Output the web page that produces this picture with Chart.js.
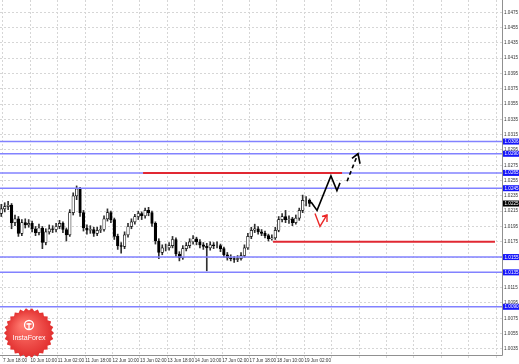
<!DOCTYPE html>
<html>
<head>
<meta charset="utf-8">
<script src="https://cdn.jsdelivr.net/npm/chart.js@4.4.0/dist/chart.umd.min.js"></script>
<style>
html, body { margin: 0; padding: 0; background: #fff; }
#wrap { width: 519px; height: 364px; position: relative; }
</style>
</head>
<body>
<div id="wrap"><canvas id="c"></canvas></div>
<script>
// Candles (each spans two bars on the time axis)
const opens  = [1.0212,1.0218,1.0221,1.0223,1.0200,1.0205,1.0186,1.0200,1.0197,1.0199,1.0192,1.0187,1.0193,1.0174,1.0188,1.0192,1.0191,1.0195,1.0199,1.0191,
                1.0184,1.0213,1.0235,1.0244,1.0213,1.0193,1.0190,1.0191,1.0186,1.0190,1.0191,1.0205,1.0213,1.0204,1.0182,1.0170,1.0169,1.0184,1.0195,1.0201,
                1.0208,1.0212,1.0209,1.0216,1.0213,1.0199,1.0176,1.0161,1.0167,1.0167,1.0170,1.0178,1.0159,1.0154,1.0166,1.0170,1.0175,1.0179,1.0175,1.0171,
                1.0169,1.0167,1.0171,1.0170,1.0170,1.0166,1.0158,1.0154,1.0153,1.0152,1.0153,1.0157,1.0167,1.0182,1.0190,1.0192,1.0188,1.0186,1.0183,1.0179,
                1.0180,1.0190,1.0204,1.0208,1.0204,1.0205,1.0200,1.0206,1.0216,1.0229,1.0229];
const highs  = [1.0224,1.0226,1.0228,1.0225,1.0210,1.0208,1.0204,1.0205,1.0204,1.0202,1.0195,1.0198,1.0195,1.0192,1.0197,1.0196,1.0199,1.0203,1.0201,1.0193,
                1.0217,1.0239,1.0248,1.0246,1.0216,1.0197,1.0196,1.0194,1.0194,1.0196,1.0209,1.0218,1.0215,1.0206,1.0185,1.0174,1.0188,1.0199,1.0205,1.0211,
                1.0215,1.0214,1.0219,1.0220,1.0215,1.0201,1.0179,1.0171,1.0172,1.0174,1.0182,1.0180,1.0162,1.0170,1.0174,1.0179,1.0183,1.0181,1.0178,1.0174,
                1.0173,1.0175,1.0174,1.0175,1.0172,1.0168,1.0161,1.0158,1.0156,1.0157,1.0161,1.0171,1.0186,1.0194,1.0198,1.0195,1.0191,1.0189,1.0185,1.0184,
                1.0194,1.0208,1.0212,1.0216,1.0209,1.0207,1.0210,1.0219,1.0236,1.0234,1.0231];
const lows   = [1.0208,1.0214,1.0217,1.0192,1.0196,1.0182,1.0183,1.0193,1.0194,1.0188,1.0183,1.0184,1.0166,1.0171,1.0185,1.0187,1.0188,1.0192,1.0187,1.0176,
                1.0182,1.0210,1.0230,1.0208,1.0189,1.0185,1.0186,1.0182,1.0183,1.0187,1.0189,1.0202,1.0200,1.0178,1.0165,1.0160,1.0166,1.0181,1.0192,1.0198,
                1.0204,1.0204,1.0206,1.0209,1.0195,1.0172,1.0153,1.0158,1.0163,1.0164,1.0167,1.0156,1.0150,1.0152,1.0163,1.0167,1.0172,1.0171,1.0167,1.0165,
                1.0137,1.0164,1.0166,1.0167,1.0162,1.0155,1.0151,1.0150,1.0148,1.0149,1.0151,1.0155,1.0165,1.0179,1.0187,1.0185,1.0183,1.0180,1.0176,1.0177,
                1.0178,1.0188,1.0201,1.0200,1.0199,1.0196,1.0198,1.0203,1.0213,1.0222,1.0221];
const closes = [1.0218,1.0221,1.0223,1.0200,1.0205,1.0186,1.0200,1.0197,1.0199,1.0192,1.0187,1.0193,1.0174,1.0188,1.0192,1.0191,1.0195,1.0199,1.0191,1.0184,
                1.0213,1.0235,1.0244,1.0213,1.0193,1.0190,1.0191,1.0186,1.0190,1.0191,1.0205,1.0213,1.0204,1.0182,1.0170,1.0169,1.0184,1.0195,1.0201,1.0208,
                1.0212,1.0209,1.0216,1.0213,1.0199,1.0176,1.0161,1.0167,1.0167,1.0170,1.0178,1.0159,1.0154,1.0166,1.0170,1.0175,1.0179,1.0175,1.0171,1.0169,
                1.0167,1.0171,1.0170,1.0170,1.0166,1.0158,1.0154,1.0153,1.0152,1.0153,1.0157,1.0167,1.0182,1.0190,1.0192,1.0188,1.0186,1.0183,1.0179,1.0180,
                1.0190,1.0204,1.0208,1.0204,1.0205,1.0200,1.0206,1.0216,1.0229,1.0229,1.0225];

// Time axis labels, one every 16 bars
const xLabels = ['7 Jun 18:00','10 Jun 10:00','11 Jun 02:00','11 Jun 18:00','12 Jun 10:00','13 Jun 02:00',
                 '13 Jun 18:00','14 Jun 10:00','17 Jun 02:00','17 Jun 18:00','18 Jun 10:00','19 Jun 02:00'];
const xTickBars = [0,16,32,48,64,80,96,112,128,144,160,176,192,208,224,240,256,272,288];

// Price axis ticks
const yTicks = [1.0035,1.0055,1.0075,1.0095,1.0115,1.0135,1.0155,1.0175,1.0195,1.0215,1.0235,1.0255,
                1.0275,1.0295,1.0315,1.0335,1.0355,1.0375,1.0395,1.0415,1.0435,1.0455,1.0475];

// Horizontal levels
const blueLevels = [1.0306,1.0290,1.0265,1.0245,1.0155,1.0135,1.0090];
const redLevels = [
  { from: 81.8, to: 198.0, price: 1.0265 },
  { from: 157.7, to: 287.3, price: 1.0175 }
];

// Forecast arrows (bar, price)
const blackPath  = [[179.9,1.0227],[183.4,1.0216],[191.5,1.0261],[195.0,1.0242],[196.8,1.0252]];
const blackDash  = [[200.9,1.0254],[207.3,1.0290]];
const blackHead  = [[203.8,1.0284],[207.3,1.0290],[208.5,1.0277]];
const redPath    = [[182.2,1.0212],[185.1,1.0195],[189.2,1.0210]];
const redHead    = [[186.3,1.0208],[189.2,1.0210],[189.2,1.0201]];

const X_MIN = -1.75, X_MAX = 291.4;
const Y_MIN = 1.0027, Y_MAX = 1.0491;

const pos = opens.map((o, i) => 2 * i - 1);
const bull = opens.map((o, i) => closes[i] >= o);

const pts = arr => arr.map(p => ({ x: p[0], y: p[1] }));
const lineDs = (data, color, width, order, dash) => ({
  type: 'line', data, borderColor: color, borderWidth: width, borderDash: dash || [],
  pointRadius: 0, fill: false, tension: 0, order
});

const datasets = [];
blueLevels.forEach(v => datasets.push(lineDs([{ x: X_MIN, y: v }, { x: X_MAX, y: v }], 'rgb(130,130,255)', 1.5, 0)));
redLevels.forEach(l => datasets.push(lineDs([{ x: l.from, y: l.price }, { x: l.to, y: l.price }], 'rgb(225,40,50)', 2, -1)));
datasets.push({
  type: 'bar', data: pos.map((x, i) => ({ x, y: [lows[i], highs[i]] })),
  backgroundColor: '#303030', barThickness: 1, grouped: false, order: 2
});
datasets.push({
  type: 'bar', data: pos.map((x, i) => ({ x, y: [opens[i], closes[i]] })),
  backgroundColor: bull.map(b => b ? '#ffffff' : '#000000'),
  borderColor: '#000000', borderWidth: 0.7, borderSkipped: false,
  barThickness: 2.6, grouped: false, order: 1
});
datasets.push(lineDs(pts(blackPath), '#000000', 1.6, -2));
datasets.push(lineDs(pts(blackDash), '#000000', 1.6, -2, [4, 3]));
datasets.push(lineDs(pts(blackHead), '#000000', 1.6, -2));
datasets.push(lineDs(pts(redPath), 'rgb(235,40,40)', 1.4, -2));
datasets.push(lineDs(pts(redHead), 'rgb(235,40,40)', 1.4, -2));

// axis frame, price boxes and the badge
const decorPlugin = {
  id: 'decor',
  afterDraw(chart) {
    const c = chart.ctx, a = chart.chartArea, ys = chart.scales.y;
    c.save();
    c.strokeStyle = '#909090';
    c.lineWidth = 1;
    c.beginPath();
    c.moveTo(a.right + 0.5, 0);
    c.lineTo(a.right + 0.5, a.bottom + 0.5);
    c.lineTo(0, a.bottom + 0.5);
    c.stroke();

    const box = (v, bg) => {
      const y = ys.getPixelForValue(v);
      c.fillStyle = bg;
      c.fillRect(a.right + 1, y - 3, 17, 6);
      c.fillStyle = '#ffffff';
      c.font = '4.6px "Liberation Sans"';
      c.textBaseline = 'middle';
      c.textAlign = 'left';
      c.fillText(v.toFixed(4), a.right + 2.5, y + 0.3);
    };
    blueLevels.forEach(v => box(v, 'rgb(20,20,250)'));
    box(closes[closes.length - 1], '#000000');

    // InstaForex badge
    const cx = 29, cy = 333, r1 = 25, r2 = 22.5, n = 26;
    c.beginPath();
    for (let k = 0; k < n * 2; k++) {
      const r = k % 2 ? r2 : r1;
      const ang = k * Math.PI / n;
      c.lineTo(cx + r * Math.cos(ang), cy + r * Math.sin(ang));
    }
    c.closePath();
    const g = c.createRadialGradient(cx - 6, cy - 8, 2, cx, cy, r1);
    g.addColorStop(0, 'rgb(255,120,110)');
    g.addColorStop(1, 'rgb(225,45,45)');
    c.fillStyle = g;
    c.fill();
    c.strokeStyle = '#ffffff';
    c.lineWidth = 1.3;
    c.beginPath();
    c.arc(cx, cy - 8, 4.5, 0, Math.PI * 2);
    c.stroke();
    c.beginPath();
    c.moveTo(cx, cy - 10);
    c.lineTo(cx, cy - 4);
    c.moveTo(cx - 2.5, cy - 9);
    c.lineTo(cx + 2.5, cy - 9);
    c.stroke();
    c.fillStyle = '#ffffff';
    c.font = '7px "Liberation Sans"';
    c.textAlign = 'center';
    c.textBaseline = 'middle';
    c.fillText('InstaForex', cx, cy + 5);
    c.restore();
  }
};

new Chart(document.getElementById('c'), {
  type: 'bar',
  data: { datasets },
  options: {
    responsive: true,
    maintainAspectRatio: false,
    animation: false,
    events: [],
    layout: { padding: 0 },
    plugins: { legend: { display: false }, tooltip: { enabled: false } },
    scales: {
      x: {
        type: 'linear', min: X_MIN, max: X_MAX, offset: false,
        afterBuildTicks: s => { s.ticks = xTickBars.map(v => ({ value: v })); },
        afterFit: s => { s.height = 9; s.paddingLeft = 0; s.paddingRight = 0; },
        ticks: {
          autoSkip: false, maxRotation: 0, align: 'start', padding: 0,
          color: '#333', font: { family: 'Liberation Sans', size: 4.6 },
          callback: (v, i) => xLabels[i] || ''
        },
        grid: { color: '#d6d6d6', offset: false, tickLength: 3 },
        border: { display: false, dash: [2, 2] }
      },
      y: {
        type: 'linear', position: 'right', min: Y_MIN, max: Y_MAX,
        afterBuildTicks: s => { s.ticks = yTicks.map(v => ({ value: v })); },
        afterFit: s => { s.width = 17; s.paddingTop = 0; s.paddingBottom = 0; },
        ticks: {
          padding: 2, color: '#333', font: { family: 'Liberation Sans', size: 4.6 },
          callback: v => v.toFixed(4)
        },
        grid: { color: '#d6d6d6', drawTicks: false },
        border: { display: false, dash: [2, 2] }
      }
    }
  },
  plugins: [decorPlugin]
});
</script>
</body>
</html>
